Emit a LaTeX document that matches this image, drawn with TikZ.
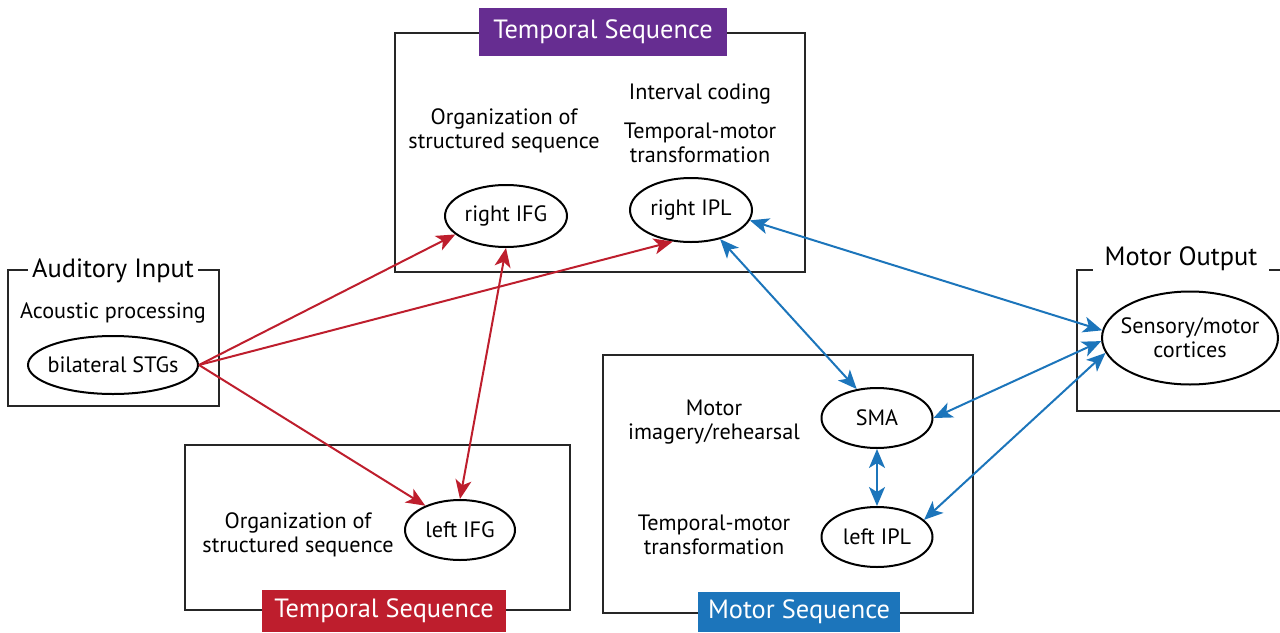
\documentclass[tikz,border=0pt]{standalone}
\usepackage{fontspec}
\setmainfont{PT Sans}
\usetikzlibrary{shapes.geometric, arrows.meta}
\definecolor{seqpurple}{RGB}{102,45,145}
\definecolor{seqred}{RGB}{190,30,45}
\definecolor{seqblue}{RGB}{28,117,187}
\tikzset{
	area/.style={shape=ellipse,line width=1pt,draw=black,fill=white,inner xsep=-5pt,inner ysep=-4pt,font=\fontsize{11.1}{12}\selectfont},
	note/.style={align=center,inner sep=0pt,font=\fontsize{11.1}{12}\selectfont},
	region/.style={line width=1.2pt,draw=black!85},
	heading/.style={fill=white,inner xsep=2pt,inner ysep=1pt,font=\fontsize{13.2}{14}\selectfont},
	purple-tag/.style={fill=seqpurple,text=white,minimum width=124pt,minimum height=24pt,font=\fontsize{13.2}{14}\selectfont},
	red-tag/.style={fill=seqred,text=white,minimum width=122pt,minimum height=21pt,font=\fontsize{13.2}{14}\selectfont},
	blue-tag/.style={fill=seqblue,text=white,minimum width=101pt,minimum height=20pt,font=\fontsize{13.2}{14}\selectfont},
}
\tikzstyle{red-arrow} = [line width=1pt,seqred,-{Stealth[length=9.5pt,width=8pt,inset=2.5pt]}]
\tikzstyle{red-double} = [line width=1pt,seqred,{Stealth[length=9.5pt,width=8pt,inset=2.5pt]}-{Stealth[length=9.5pt,width=8pt,inset=2.5pt]}]
\tikzstyle{blue-double} = [line width=1pt,seqblue,{Stealth[length=9.5pt,width=8pt,inset=2.5pt]}-{Stealth[length=9.5pt,width=8pt,inset=2.5pt]}]

\begin{document}
\begin{tikzpicture}[x=0.5pt,y=-0.5pt]
	\useasboundingbox (0,0) rectangle (1280,632);

	% boxes
	\draw[region] (8,270) rectangle (219,406);
	\draw[region] (395,33) rectangle (805,272);
	\draw[region] (185,445) rectangle (570,610);
	\draw[region] (603,355) rectangle (973,613);
	\draw[region] (1280,270) -- (1077,270) -- (1077,411) -- (1280,411);

	% headings and tags
	\node[heading] (auditory) at (113,271) {Auditory Input};
	\node[heading,inner xsep=6pt,minimum height=20pt] (motorout) at (1181,259) {Motor Output};
	\node[purple-tag] (toptag) at (603,32) {Temporal Sequence};
	\node[red-tag] (bottag) at (384,611) {Temporal Sequence};
	\node[blue-tag] (motortag) at (799,612) {Motor Sequence};

	% notes
	\node[note] (acoustic) at (113,313) {Acoustic processing};
	\node[note] (organizetop) at (504,131) {Organization of\\structured sequence};
	\node[note] (interval) at (700,94) {Interval coding};
	\node[note] (transtop) at (700,143) {Temporal-motor\\transformation};
	\node[note] (imagery) at (714,422) {Motor\\imagery/rehearsal};
	\node[note] (transmotor) at (714,535) {Temporal-motor\\transformation};
	\node[note] (organizebot) at (298,535) {Organization of\\structured sequence};

	% areas
	\node[area,minimum width=85pt,minimum height=29pt] (stg) at (113,365) {bilateral STGs};
	\node[area,minimum width=61pt,minimum height=31pt] (rifg) at (506,216) {right IFG};
	\node[area,minimum width=61pt,minimum height=32pt] (ripl) at (691,210) {right IPL};
	\node[area,minimum width=55pt,minimum height=30pt] (lifg) at (460,530) {left IFG};
	\node[area,minimum width=55.5pt,minimum height=30pt] (sma) at (877,418) {SMA};
	\node[area,minimum width=55.5pt,minimum height=30pt] (lipl) at (877,537) {left IPL};
	\node[area,align=center,minimum width=88pt,minimum height=46.5pt] (sens) at (1190,338) {Sensory/motor\\cortices};

	% connections
	\path[red-arrow] (stg.east) edge (rifg.200);
	\path[red-arrow] (stg.east) edge (ripl.240);
	\path[red-arrow] (stg.east) edge (lifg.145);
	\path[red-double] (rifg.south) edge (lifg.north);
	\path[blue-double] (ripl.-45) edge (sma.125);
	\path[blue-double] (ripl.-10) edge (sens.175);
	\path[blue-double] (sma.east) edge (sens.182);
	\path[blue-double] (lipl.20) edge (sens.190);
	\path[blue-double] (sma.south) edge (lipl.north);
\end{tikzpicture}
\end{document}
